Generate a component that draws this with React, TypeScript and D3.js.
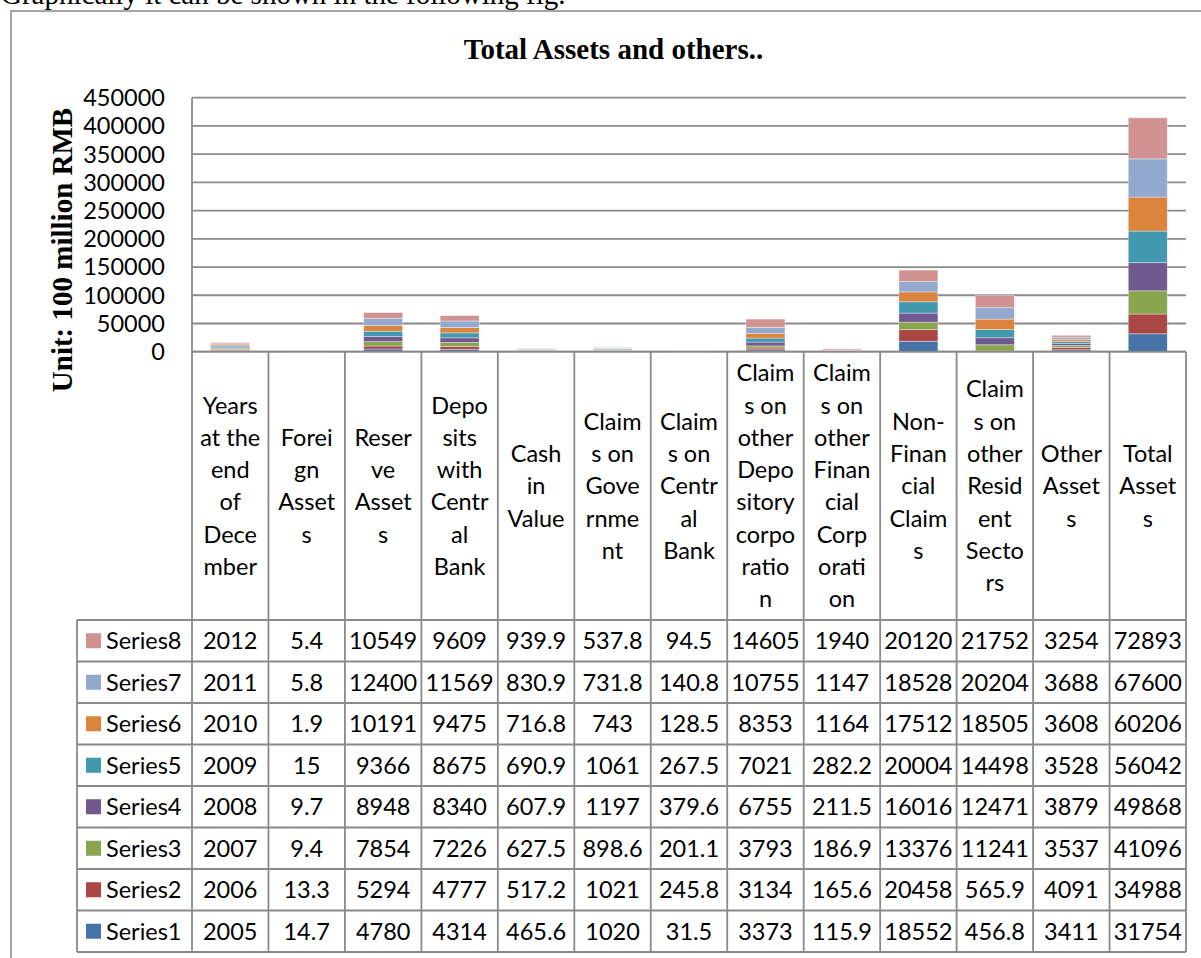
import React from 'react';
import * as d3 from 'd3';

// chart data
const categories = [
  'Years at the end of December', 'Foreign Assets', 'Reserve Assets', 'Deposits with Central Bank',
  'Cash in Value', 'Claims on Government', 'Claims on Central Bank',
  'Claims on other Depository corporation', 'Claims on other Financial Corporation',
  'Non-Financial Claims', 'Claims on other Resident Sectors', 'Other Assets', 'Total Assets',
];
// wrapped header text as it appears in the table
const categoryLines = [
  ['Years', 'at the', 'end', 'of', 'Dece', 'mber'],
  ['Forei', 'gn', 'Asset', 's'],
  ['Reser', 've', 'Asset', 's'],
  ['Depo', 'sits', 'with', 'Centr', 'al', 'Bank'],
  ['Cash', 'in', 'Value'],
  ['Claim', 's on', 'Gove', 'rnme', 'nt'],
  ['Claim', 's on', 'Centr', 'al', 'Bank'],
  ['Claim', 's on', 'other', 'Depo', 'sitory', 'corpo', 'ratio', 'n'],
  ['Claim', 's on', 'other', 'Finan', 'cial', 'Corp', 'orati', 'on'],
  ['Non-', 'Finan', 'cial', 'Claim', 's'],
  ['Claim', 's on', 'other', 'Resid', 'ent', 'Secto', 'rs'],
  ['Other', 'Asset', 's'],
  ['Total', 'Asset', 's'],
];

const seriesNames = ['Series1', 'Series2', 'Series3', 'Series4', 'Series5', 'Series6', 'Series7', 'Series8'];
const series1 = [2005, 14.7, 4780, 4314, 465.6, 1020, 31.5, 3373, 115.9, 18552, 456.8, 3411, 31754];
const series2 = [2006, 13.3, 5294, 4777, 517.2, 1021, 245.8, 3134, 165.6, 20458, 565.9, 4091, 34988];
const series3 = [2007, 9.4, 7854, 7226, 627.5, 898.6, 201.1, 3793, 186.9, 13376, 11241, 3537, 41096];
const series4 = [2008, 9.7, 8948, 8340, 607.9, 1197, 379.6, 6755, 211.5, 16016, 12471, 3879, 49868];
const series5 = [2009, 15, 9366, 8675, 690.9, 1061, 267.5, 7021, 282.2, 20004, 14498, 3528, 56042];
const series6 = [2010, 1.9, 10191, 9475, 716.8, 743, 128.5, 8353, 1164, 17512, 18505, 3608, 60206];
const series7 = [2011, 5.8, 12400, 11569, 830.9, 731.8, 140.8, 10755, 1147, 18528, 20204, 3688, 67600];
const series8 = [2012, 5.4, 10549, 9609, 939.9, 537.8, 94.5, 14605, 1940, 20120, 21752, 3254, 72893];
const seriesValues = [series1, series2, series3, series4, series5, series6, series7, series8];
const seriesColors = ['#4572A7', '#AA4643', '#89A54E', '#71588F', '#4198AF', '#DB843D', '#93A9CF', '#D19392'];

const W = 1201, H = 958;
const plotLeft = 192, plotRight = 1186, plotTop = 97.7, plotBottom = 351.7;
const headerBottom = 620, rowH = 41.5;
const legendLeft = 77;
const grid = '#8a8a8a';
const calibri = 'Lato, Carlito, Calibri, sans-serif';
const times = '"Liberation Serif", "Times New Roman", serif';

export default function App() {
  const x = d3.scaleBand<string>().domain(categories).range([plotLeft, plotRight]);
  const y = d3.scaleLinear().domain([0, 450000]).range([plotBottom, plotTop]);
  const barW = x.bandwidth() * 0.51;

  const rows = categories.map((c, i) => {
    const r: Record<string, any> = { cat: c };
    seriesNames.forEach((s, k) => { r[s] = seriesValues[k][i]; });
    return r;
  });
  const stacked = d3.stack<any>().keys(seriesNames)(rows);

  const headerMid = (plotBottom + headerBottom) / 2;
  const lineH = 32.3;
  const tableBottom = headerBottom + rowH * seriesNames.length;
  const rowOrder = seriesNames.map((_, k) => seriesNames.length - 1 - k); // Series8 on top

  return (
    <svg width={W} height={H} style={{ position: 'absolute', left: 0, top: 0, background: '#fff' }}>
      <text x={1} y={4} fontFamily={times} fontSize={29}>Graphically it can be shown in the following fig.</text>
      <rect x={11} y={11} width={1204} height={960} fill="none" stroke="#888" strokeWidth={1.5} />

      <text x={613.5} y={59} textAnchor="middle" fontFamily={times} fontSize={29} fontWeight="bold">
        Total Assets and others..
      </text>
      <text transform="translate(72,250) rotate(-90)" textAnchor="middle" fontFamily={times} fontSize={29} fontWeight="bold">
        Unit: 100 million RMB
      </text>

      {/* gridlines + ticks */}
      {y.ticks(9).map(t => (
        <g key={t}>
          <line x1={plotLeft} x2={plotRight} y1={y(t)} y2={y(t)} stroke={grid} strokeWidth={1.8} />
          <text x={165} y={y(t)} dy="0.36em" textAnchor="end" fontFamily={calibri} fontSize={23.5}>
            {d3.format('d')(t)}
          </text>
        </g>
      ))}
      <line x1={plotLeft} x2={plotLeft} y1={plotTop} y2={plotBottom} stroke={grid} strokeWidth={1.8} />

      {/* stacked bars */}
      {stacked.map((layer, k) => (
        <g key={layer.key} fill={seriesColors[k]}>
          {layer.map((d, i) => (
            <rect key={i} x={(x(categories[i]) as number) + (x.bandwidth() - barW) / 2} width={barW}
              y={y(d[1])} height={Math.max(0, y(d[0]) - y(d[1]))}
              stroke="#fff" strokeOpacity={0.45} strokeWidth={0.8} />
          ))}
        </g>
      ))}

      {/* data table */}
      <g stroke={grid} strokeWidth={1.8}>
        {categories.map((c, i) => (
          <line key={c} x1={x(c)} x2={x(c)} y1={plotBottom} y2={tableBottom} />
        ))}
        <line x1={plotRight} x2={plotRight} y1={plotBottom} y2={tableBottom} />
        <line x1={legendLeft} x2={legendLeft} y1={headerBottom} y2={tableBottom} />
        {d3.range(seriesNames.length + 1).map(r => (
          <line key={r} x1={legendLeft} x2={plotRight} y1={headerBottom + r * rowH} y2={headerBottom + r * rowH} />
        ))}
        <line x1={plotLeft} x2={plotRight} y1={plotBottom} y2={plotBottom} />
      </g>

      {categoryLines.map((lines, i) => (
        <g key={i}>
          {lines.map((ln, j) => (
            <text key={j} x={(x(categories[i]) as number) + x.bandwidth() / 2}
              y={headerMid + (j - (lines.length - 1) / 2) * lineH} dy="0.36em"
              textAnchor="middle" fontFamily={calibri} fontSize={23.5}>{ln}</text>
          ))}
        </g>
      ))}

      {rowOrder.map((k, r) => {
        const cy = headerBottom + rowH * (r + 0.5);
        return (
          <g key={seriesNames[k]}>
            <rect x={86} y={cy - 7.5} width={15} height={15} fill={seriesColors[k]} />
            <text x={106} y={cy} dy="0.36em" fontFamily={calibri} fontSize={23.5}>{seriesNames[k]}</text>
            {seriesValues[k].map((v, i) => (
              <text key={i} x={(x(categories[i]) as number) + x.bandwidth() / 2} y={cy} dy="0.36em"
                textAnchor="middle" fontFamily={calibri} fontSize={23.5}>{String(v)}</text>
            ))}
          </g>
        );
      })}
    </svg>
  );
}
